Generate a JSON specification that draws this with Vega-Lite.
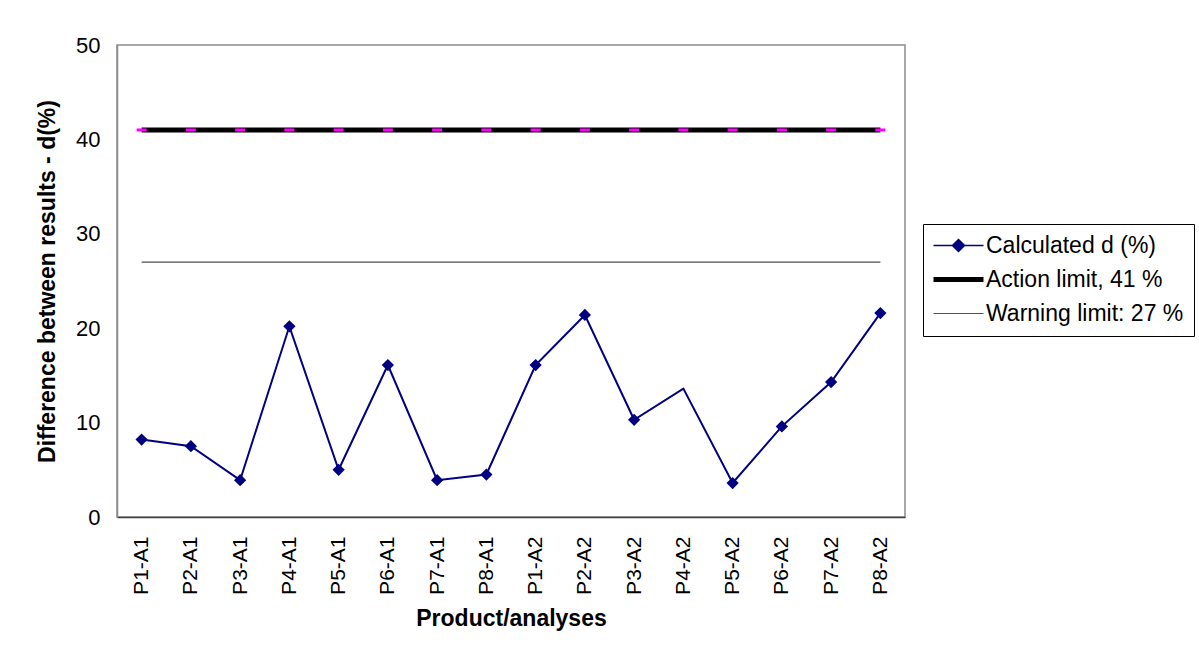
{
  "$schema": "https://vega.github.io/schema/vega-lite/v6.json",
  "width": 788,
  "height": 472,
  "autosize": {"type": "none"},
  "padding": {"left": 117, "top": 45, "right": 294, "bottom": 140},
  "background": "white",
  "config": {
    "font": "Liberation Sans",
    "view": {"stroke": "#8c8c8c", "strokeWidth": 1.5},
    "axis": {
      "labelFont": "Liberation Sans",
      "labelFontSize": 21,
      "labelColor": "black",
      "titleFont": "Liberation Sans",
      "titleFontSize": 23,
      "titleFontWeight": "bold",
      "titleColor": "black",
      "grid": false,
      "ticks": false
    }
  },
  "data": {
    "values": [
      {"x": "P1-A1", "s": "Calculated d (%)", "v": 8.2},
      {"x": "P2-A1", "s": "Calculated d (%)", "v": 7.5},
      {"x": "P3-A1", "s": "Calculated d (%)", "v": 3.9},
      {"x": "P4-A1", "s": "Calculated d (%)", "v": 20.2},
      {"x": "P5-A1", "s": "Calculated d (%)", "v": 5.0},
      {"x": "P6-A1", "s": "Calculated d (%)", "v": 16.1},
      {"x": "P7-A1", "s": "Calculated d (%)", "v": 3.9},
      {"x": "P8-A1", "s": "Calculated d (%)", "v": 4.5},
      {"x": "P1-A2", "s": "Calculated d (%)", "v": 16.1},
      {"x": "P2-A2", "s": "Calculated d (%)", "v": 21.4},
      {"x": "P3-A2", "s": "Calculated d (%)", "v": 10.3},
      {"x": "P4-A2", "s": "Calculated d (%)", "v": 13.6},
      {"x": "P5-A2", "s": "Calculated d (%)", "v": 3.6},
      {"x": "P6-A2", "s": "Calculated d (%)", "v": 9.6},
      {"x": "P7-A2", "s": "Calculated d (%)", "v": 14.3},
      {"x": "P8-A2", "s": "Calculated d (%)", "v": 21.6},
      {"x": "P1-A1", "s": "Action limit, 41 %", "v": 41},
      {"x": "P2-A1", "s": "Action limit, 41 %", "v": 41},
      {"x": "P3-A1", "s": "Action limit, 41 %", "v": 41},
      {"x": "P4-A1", "s": "Action limit, 41 %", "v": 41},
      {"x": "P5-A1", "s": "Action limit, 41 %", "v": 41},
      {"x": "P6-A1", "s": "Action limit, 41 %", "v": 41},
      {"x": "P7-A1", "s": "Action limit, 41 %", "v": 41},
      {"x": "P8-A1", "s": "Action limit, 41 %", "v": 41},
      {"x": "P1-A2", "s": "Action limit, 41 %", "v": 41},
      {"x": "P2-A2", "s": "Action limit, 41 %", "v": 41},
      {"x": "P3-A2", "s": "Action limit, 41 %", "v": 41},
      {"x": "P4-A2", "s": "Action limit, 41 %", "v": 41},
      {"x": "P5-A2", "s": "Action limit, 41 %", "v": 41},
      {"x": "P6-A2", "s": "Action limit, 41 %", "v": 41},
      {"x": "P7-A2", "s": "Action limit, 41 %", "v": 41},
      {"x": "P8-A2", "s": "Action limit, 41 %", "v": 41},
      {"x": "P1-A1", "s": "Warning limit: 27 %", "v": 27},
      {"x": "P2-A1", "s": "Warning limit: 27 %", "v": 27},
      {"x": "P3-A1", "s": "Warning limit: 27 %", "v": 27},
      {"x": "P4-A1", "s": "Warning limit: 27 %", "v": 27},
      {"x": "P5-A1", "s": "Warning limit: 27 %", "v": 27},
      {"x": "P6-A1", "s": "Warning limit: 27 %", "v": 27},
      {"x": "P7-A1", "s": "Warning limit: 27 %", "v": 27},
      {"x": "P8-A1", "s": "Warning limit: 27 %", "v": 27},
      {"x": "P1-A2", "s": "Warning limit: 27 %", "v": 27},
      {"x": "P2-A2", "s": "Warning limit: 27 %", "v": 27},
      {"x": "P3-A2", "s": "Warning limit: 27 %", "v": 27},
      {"x": "P4-A2", "s": "Warning limit: 27 %", "v": 27},
      {"x": "P5-A2", "s": "Warning limit: 27 %", "v": 27},
      {"x": "P6-A2", "s": "Warning limit: 27 %", "v": 27},
      {"x": "P7-A2", "s": "Warning limit: 27 %", "v": 27},
      {"x": "P8-A2", "s": "Warning limit: 27 %", "v": 27}
    ]
  },
  "encoding": {
    "x": {
      "field": "x",
      "type": "nominal",
      "sort": null,
      "scale": {"type": "point", "padding": 0.5},
      "axis": {
        "title": "Product/analyses",
        "labelAngle": -90,
        "labelPadding": 19,
        "titlePadding": 13,
        "domainColor": "#404040",
        "domainWidth": 1.5
      }
    },
    "y": {
      "field": "v",
      "type": "quantitative",
      "scale": {"domain": [0, 50], "nice": false},
      "axis": {
        "title": "Difference between results - d(%)",
        "values": [0, 10, 20, 30, 40, 50],
        "labelFontSize": 22,
        "labelPadding": 17,
        "titlePadding": 16,
        "domainColor": "#8c8c8c",
        "domainWidth": 1.5
      }
    }
  },
  "layer": [
    {
      "mark": {"type": "line"},
      "encoding": {
        "color": {
          "field": "s",
          "type": "nominal",
          "scale": {
            "domain": ["Calculated d (%)", "Action limit, 41 %", "Warning limit: 27 %"],
            "range": ["#000080", "#000000", "#505050"]
          },
          "legend": {
            "title": null,
            "orient": "none",
            "legendX": 806,
            "legendY": 179,
            "strokeColor": "black",
            "fillColor": "white",
            "padding": 10,
            "labelFont": "Liberation Sans",
            "labelFontSize": 23,
            "labelColor": "black",
            "labelLimit": 400,
            "symbolSize": 400,
            "symbolType": "M-2.5,0H2.5",
            "symbolOffset": 14,
            "labelOffset": 16,
            "rowPadding": 10,
            "encode": {
              "symbols": {
                "update": {
                  "shape": {"signal": "datum.value === 'Calculated d (%)' ? 'M-2.5,0H2.5M0,-0.6L0.6,0L0,0.6L-0.6,0Z' : 'M-2.5,0H2.5'"},
                  "strokeWidth": {"signal": "datum.value === 'Action limit, 41 %' ? 5 : (datum.value === 'Calculated d (%)' ? 1.5 : 1.2)"},
                  "fill": {"signal": "datum.value === 'Calculated d (%)' ? '#000080' : 'transparent'"},
                  "fillOpacity": {"value": 1}
                }
              }
            }
          }
        },
        "strokeWidth": {
          "condition": [
            {"test": "datum.s === 'Action limit, 41 %'", "value": 5},
            {"test": "datum.s === 'Warning limit: 27 %'", "value": 1.2}
          ],
          "value": 2
        }
      }
    },
    {
      "transform": [{"filter": "datum.s === 'Action limit, 41 %'"}],
      "mark": {"type": "tick", "color": "#ff00ff", "size": 10, "thickness": 3, "opacity": 1},
      "encoding": {}
    },
    {
      "transform": [{"filter": "datum.s === 'Calculated d (%)' && datum.x !== 'P4-A2'"}],
      "mark": {"type": "point", "shape": "diamond", "filled": true, "color": "#000080", "size": 150, "opacity": 1},
      "encoding": {}
    }
  ]
}
